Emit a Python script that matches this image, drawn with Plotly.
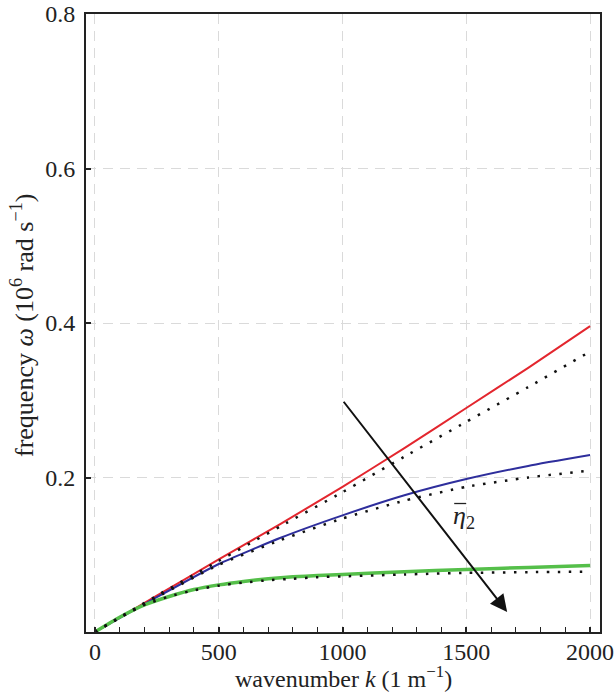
import plotly.graph_objects as go

k = [0, 250, 500, 750, 1000, 1250, 1500, 1750, 2000]
k_green = [0, 100, 200, 300, 400, 500, 600, 700, 800, 900, 1000, 1250, 1500, 1750, 2000]

red_solid = [0, 0.047, 0.094, 0.140, 0.188, 0.238, 0.290, 0.342, 0.396]
red_dotted = [0, 0.047, 0.092, 0.137, 0.181, 0.227, 0.272, 0.317, 0.363]
blue_solid = [0, 0.045, 0.088, 0.122, 0.151, 0.177, 0.198, 0.215, 0.229]
blue_dotted = [0, 0.045, 0.087, 0.119, 0.147, 0.170, 0.188, 0.200, 0.209]
green_solid = [0, 0.019, 0.035, 0.046, 0.055, 0.061, 0.0655, 0.069, 0.0715, 0.073, 0.0745, 0.078, 0.081, 0.0835, 0.086]
green_dotted = [0, 0.019, 0.035, 0.046, 0.054, 0.060, 0.064, 0.067, 0.069, 0.071, 0.072, 0.0745, 0.0765, 0.0775, 0.078]

x_ticks = [0, 500, 1000, 1500, 2000]
y_ticks = [0.2, 0.4, 0.6, 0.8]

arrow_start = (1000, 0.30)
arrow_end = (1665, 0.026)
label_pos = (1439, 0.1495)

FONT = "Liberation Serif"
W, H = 615, 692
ML, MR, MT, MB = 86, 15, 14, 60
PW, PH = W - ML - MR, H - MT - MB


def px_to_paper(px, py):
    return (px - ML) / PW, (H - MB - py) / PH


fig = go.Figure()
solid = [(k, red_solid, "#e3262e", 2), (k, blue_solid, "#2e2e9c", 2), (k_green, green_solid, "#55bf4a", 3.5)]
for xs, ys, c, w in solid:
    fig.add_trace(go.Scatter(x=xs, y=ys, mode="lines", line=dict(color=c, width=w, shape="spline", smoothing=0.5),
                             showlegend=False, hoverinfo="skip"))
for xs, ys in [(k, red_dotted), (k, blue_dotted), (k_green, green_dotted)]:
    fig.add_trace(go.Scatter(x=xs, y=ys, mode="lines",
                             line=dict(color="#111111", width=2.5, dash="2.5px,8.5px", shape="spline", smoothing=0.5),
                             showlegend=False, hoverinfo="skip"))

fig.add_annotation(x=arrow_end[0], y=arrow_end[1], ax=arrow_start[0], ay=arrow_start[1],
                   xref="x", yref="y", axref="x", ayref="y", showarrow=True,
                   arrowhead=2, arrowsize=1.7, arrowwidth=2, arrowcolor="#111111", text="")
fig.add_annotation(x=label_pos[0], y=label_pos[1], xref="x", yref="y", showarrow=False,
                   xanchor="left", yanchor="middle",
                   text="<i>η</i><sub>2</sub>", font=dict(family=FONT, size=26, color="#222"))
# overbar of the eta label
fig.add_shape(type="line", xref="x", yref="y", xsizemode="pixel", ysizemode="pixel",
              xanchor=label_pos[0], yanchor=label_pos[1], x0=3, x1=15, y0=13, y1=13,
              line=dict(color="#222", width=1.3))

yx, yy = px_to_paper(22, 326)
fig.add_annotation(x=yx, y=yy, xref="paper", yref="paper", showarrow=False, xanchor="center", yanchor="middle",
                   text="frequency <i>ω</i> (10<sup>6</sup> rad s<sup>−1</sup>)",
                   textangle=-90, font=dict(family=FONT, size=26, color="#222"))
xx, xy = px_to_paper(343, 677)
fig.add_annotation(x=xx, y=xy, xref="paper", yref="paper", showarrow=False, xanchor="center", yanchor="middle",
                   text="wavenumber <i>k</i> (1 m<sup>−1</sup>)",
                   font=dict(family=FONT, size=24, color="#222"))

tickfont = dict(family=FONT, size=24, color="#222")
fig.update_layout(
    width=W, height=H,
    margin=dict(l=ML, r=MR, t=MT, b=MB),
    paper_bgcolor="white", plot_bgcolor="white",
    font=dict(family=FONT, size=24, color="#222"),
    xaxis=dict(range=[-36, 2040], tickvals=x_ticks, ticks="inside", ticklen=5, tickwidth=1.5, tickcolor="#222",
               tickfont=tickfont,
               minor=dict(dtick=100, ticks="inside", ticklen=5, tickwidth=1.2, tickcolor="#222", showgrid=False),
               showline=True, linecolor="#222", linewidth=2, mirror=True, automargin=False,
               showgrid=True, gridcolor="#dadada", griddash="10px,7px", gridwidth=1, zeroline=False,
               ticklabelstandoff=-3),
    yaxis=dict(range=[0, 0.8], tickvals=y_ticks, ticktext=["0.2", "0.4", "0.6", "0.8"],
               ticks="inside", ticklen=5, tickwidth=1.5, tickcolor="#222", tickfont=tickfont,
               showline=True, linecolor="#222", linewidth=2, mirror=True, automargin=False,
               showgrid=True, gridcolor="#dadada", griddash="10px,7px", gridwidth=1, zeroline=False,
               ticklabelstandoff=4),
)

fig.write_html("out.html", config={"displayModeBar": False},
               post_script="document.body.style.margin='0';")
